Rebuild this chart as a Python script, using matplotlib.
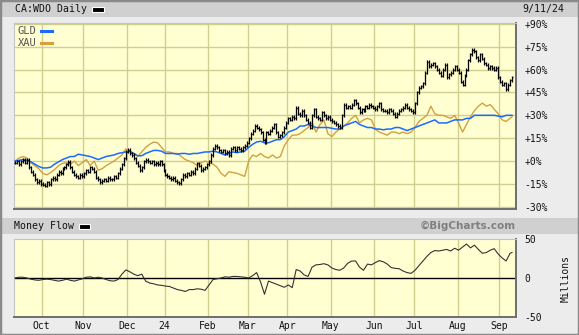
import numpy as np
import pandas as pd
import matplotlib
matplotlib.use('Agg')
import matplotlib.pyplot as plt
from matplotlib.lines import Line2D
from matplotlib.patches import Rectangle

# ---------------- data ----------------
# TSX trading calendar (Sep 12 2023 .. Sep 11 2024)
tsx_holidays = ['2023-10-09', '2023-12-25', '2023-12-26', '2024-01-01', '2024-02-19',
                '2024-03-29', '2024-05-20', '2024-07-01', '2024-08-05', '2024-09-02']
month_labels = ['Oct', 'Nov', 'Dec', '24', 'Feb', 'Mar', 'Apr', 'May', 'Jun', 'Jul', 'Aug', 'Sep']

# CA:WDO daily close, % change from start
wdo_close = [
    -1, 0, -2, 0, 1, -1, 1, -4, -7, -9,
    -12, -14, -13, -15, -15.5, -16, -14, -15, -12, -11,
    -12, -9, -7, -8, -5, -4, -2, -0.5, -4, -7,
    -9, -10, -11, -9, -10, -8, -6, -7, -4, -5,
    -7, -11, -12, -14, -13, -12, -13, -11, -12, -12,
    -10, -11, -8, -5, -2, 2, 6, 7.5, 5, 4,
    2, -1, -3, -6, -4, 0, 1, 0, -1, 0,
    -2, -1, -2, 0, -2, -6, -9, -10, -11, -12,
    -11, -13, -14, -14.5, -12, -9, -10, -8, -9, -7,
    -8, -5, -1.5, -3, -6, -5, -4, -2, 0, 4,
    8, 10, 9, 7, 6, 7, 5, 6, 4, 8,
    9, 7, 9, 8, 7, 9, 10, 12, 15, 18,
    20, 23, 22, 21, 19, 14, 12, 19, 18, 20,
    22, 24, 19, 16, 17, 19, 22, 25, 28, 27,
    29, 28, 35, 31, 30, 33, 30, 27, 25, 22,
    30, 34, 29, 28, 27, 32, 30, 28, 29, 27,
    26, 25, 24, 23, 22, 30, 37, 35, 36, 35,
    37, 40, 38, 35, 32, 34, 33, 36, 35, 37,
    36, 35, 34, 36, 38, 34, 33, 33, 32, 34,
    33, 31, 29, 31, 33, 34, 35, 37, 35, 34,
    33, 32, 38, 45, 48, 49, 51, 58, 65, 62,
    63, 64, 62, 60, 58, 56, 60, 63, 55, 57,
    58, 60, 62, 60, 58, 52, 50, 56, 60, 66,
    70, 73, 72, 68, 66, 70, 67, 64, 63, 61,
    62, 61, 60, 61, 55, 52, 50, 51, 47, 50,
    53, 55,
]

# GLD and XAU (% change), sampled every second trading day + last day
gld_pct = [
    0, 0.5, 1, 0.5, -0.5, -2, -3.5, -4.5, -4.5, -4,
    -2, -0.5, 1, 2, 3, 3, 4.5, 4, 3.5, 3,
    2, 1, 2, 3, 3.5, 4, 5, 5.5, 6, 6.5,
    5, 3.5, 3.5, 5, 6, 7, 7, 6.5, 5, 5,
    5, 4.5, 5, 5, 4.5, 5, 5, 5.5, 6, 6,
    6.5, 6, 5, 4, 5, 6, 5.5, 6, 6.5, 9,
    11, 12.5, 13, 12, 12, 13, 14, 14, 16, 19,
    20, 21, 23, 23, 24, 23, 22, 22, 22, 22,
    21.5, 21, 21, 23, 24, 25, 26, 24, 23, 22,
    22, 21, 21, 20.5, 21, 21, 22, 22, 21, 20,
    21, 22, 23, 24, 25, 26, 27, 25, 25, 25,
    26, 27, 27, 27, 28, 28, 30, 30, 30, 30,
    30, 30, 29.5, 29, 30, 30, 30,
]
xau_pct = [
    0, 2, 3, 2, -1, -3, -5, -8, -9, -7.5,
    -5.5, -3, -1.5, -1, -2, 0, -3, -1, 1, -3,
    0, -6, -5, -3, -1.5, 0, 2, 4, 8, 6,
    5, 3, 6, 9, 11, 12.5, 12, 9, 6, 6,
    5, 5, 3, 1, 0, -1, -3, -1, 0, -1,
    -2, -4, -8, -10, -7, -7.5, -8, -9, -10, 0,
    4, 3, 5, 3, 2, 4, 2, 3, 10, 14,
    17, 17, 18, 20, 22, 25, 19, 24, 27, 18,
    16, 19, 21, 23, 25, 28, 30, 25, 27, 28,
    27, 21, 19, 18, 17, 19, 19, 18, 19, 18,
    19, 22, 26, 28, 30, 36, 31, 30, 30, 29,
    28, 30, 25, 19, 24, 29, 33, 36, 38, 36,
    37, 34, 31, 27, 26, 28, 29,
]
# Money flow (millions), every second trading day + last day
money_flow = [
    0, 1, 1, 0, -1.5, -2.5, -3, -2, -1.5, -2,
    -3, -4, -3, -1.5, -3, -4, -2.5, -1, 1, 1.5,
    0, 1, 0, -2, -3.5, -4, -2, 5, 10.5, 8,
    5, 3, 5, -4, -6.5, -7.5, -9, -9.5, -10.5, -11,
    -13, -15, -16, -17.5, -15, -15, -14, -14.5, -16, -9,
    -2, -1, 0, 1.5, 1, 2, 2, 1.5, 1, 0,
    3, 7, -5, -21, -4, -6, -8, -10, -12, -9,
    -12.5, 11, 9, 4, 2, 14, 17, 17.5, 18.5, 17,
    13, 11, 10, 13, 19, 22, 22, 14, 10, 18,
    17, 20, 22.5, 21, 18, 13.5, 12.5, 12, 9, 7,
    6, 10, 16, 22, 28, 33, 35.5, 35, 36, 37,
    35, 38.5, 36, 40, 44, 39, 42.5, 37, 32, 33,
    36, 38, 31, 26, 22, 32, 33,
]
pct_ticks = [90, 75, 60, 45, 30, 15, 0, -15, -30]
mf_ticks = [50, 0, -50]

# ---------------- derived positions ----------------
dates = pd.bdate_range('2023-09-12', '2024-09-11')
dates = dates[~dates.isin(pd.to_datetime(tsx_holidays))]
n = len(dates)
idx = np.arange(len(wdo_close))
idx2 = np.r_[np.arange(0, len(wdo_close), 2), len(wdo_close) - 1]
mser = pd.Series(dates.month, index=range(n))
month_start = [i for i in range(1, n) if mser[i] != mser[i - 1]]
grid_x = np.array(month_start) - 0.5

# ---------------- figure ----------------
W, H = 579, 335
fig = plt.figure(figsize=(W / 100, H / 100), dpi=100, facecolor='#ececec')
MONO = 'DejaVu Sans Mono'

def fx(px):
    return px / W

def fy(py):
    return 1 - py / H

# header bars
fig.add_artist(Rectangle((0, fy(17)), 1, 17 / H, transform=fig.transFigure,
                         facecolor='#d0d0d0', edgecolor='none', zorder=0))
fig.add_artist(Rectangle((0, fy(234)), 1, 16 / H, transform=fig.transFigure,
                         facecolor='#d0d0d0', edgecolor='none', zorder=0))
# outer frame
fig.add_artist(Rectangle((0, 0), 1, 1, transform=fig.transFigure, facecolor='none',
                         edgecolor='#8a8a8a', lw=2.5, zorder=10))

grid_c = '#cfcf90'
plot_bg = '#ffffd2'

# ---- top panel ----
ax = fig.add_axes([fx(14), fy(209), (516 - 14) / W, (209 - 22.7) / H], facecolor=plot_bg)
for y in pct_ticks:
    ax.axhline(y, color=grid_c, lw=1.0, zorder=1)
for gx in grid_x:
    ax.axvline(gx, color=grid_c, lw=1.0, zorder=1)

ax.plot(idx2, xau_pct, color='#d4a040', lw=1.0, zorder=3)
ax.plot(idx2, gld_pct, color='#1a6cff', lw=1.1, zorder=4)

c = np.array(wdo_close, dtype=float)
o = np.r_[c[0], c[:-1]]
hi = np.maximum(o, c) + 1.0
lo = np.minimum(o, c) - 1.0
ax.vlines(idx, lo, hi, color='black', lw=0.9, zorder=5)
ax.hlines(o, idx - 0.55, idx, color='black', lw=0.9, zorder=5)
ax.hlines(c, idx, idx + 0.55, color='black', lw=0.9, zorder=5)

ax.set_xlim(-0.5, 253)
ax.set_ylim(-31.4, 90.7)
ax.yaxis.tick_right()
ax.set_yticks(pct_ticks)
ax.set_yticklabels([('+%d%%' % v) if v >= 0 else ('%d%%' % v) for v in pct_ticks],
                   family=MONO, fontsize=7, color='#111')
ax.tick_params(axis='y', length=0, pad=6)
ax.set_xticks([])
for s in ['top', 'left']:
    ax.spines[s].set_color('#c4c4c4')
for s in ['right', 'bottom']:
    ax.spines[s].set_color('#6e6e6e')
    ax.spines[s].set_linewidth(1.4)

# ---- bottom panel ----
bx = fig.add_axes([fx(14), fy(317), (516 - 14) / W, (317 - 239) / H], facecolor=plot_bg)
for gx in grid_x:
    bx.axvline(gx, color=grid_c, lw=1.0, zorder=1)
bx.axhline(0, color='black', lw=1.0, zorder=2)
bx.plot(idx2, money_flow, color='#333333', lw=0.8, zorder=3)
bx.set_xlim(-0.5, 253)
bx.set_ylim(-50.5, 50.5)
bx.yaxis.tick_right()
bx.set_yticks(mf_ticks)
bx.set_yticklabels([str(v) for v in mf_ticks], family=MONO, fontsize=7, color='#111')
bx.tick_params(axis='y', length=0, pad=6)
bx.set_xticks(grid_x)
bx.set_xticklabels(month_labels, family=MONO, fontsize=7, color='#111')
bx.tick_params(axis='x', length=0, pad=3)
for s in ['top', 'left']:
    bx.spines[s].set_color('#c4c4c4')
for s in ['right', 'bottom']:
    bx.spines[s].set_color('#6e6e6e')
    bx.spines[s].set_linewidth(1.4)

# ---- texts ----
fig.text(fx(15), fy(9), 'CA:WDO Daily', family=MONO, fontsize=7.1, va='center', color='#111')
fig.add_artist(Rectangle((fx(92), fy(12)), 12 / W, 5 / H, transform=fig.transFigure,
                         facecolor='black', edgecolor='white', lw=0.8, zorder=5))
fig.text(fx(564), fy(9), '9/11/24', family=MONO, fontsize=7.1, va='center', ha='right', color='#111')

fig.text(fx(18), fy(31), 'GLD', family=MONO, fontsize=7.5, va='center', color='#555')
fig.add_artist(Line2D([fx(41), fx(52)], [fy(31), fy(31)], transform=fig.transFigure,
                      color='#1a6cff', lw=2.2, zorder=6))
fig.text(fx(18), fy(42.5), 'XAU', family=MONO, fontsize=7.5, va='center', color='#555')
fig.add_artist(Line2D([fx(41), fx(52)], [fy(42.5), fy(42.5)], transform=fig.transFigure,
                      color='#d4a040', lw=2.2, zorder=6))

fig.text(fx(14), fy(226), 'Money Flow', family=MONO, fontsize=7.1, va='center', color='#111')
fig.add_artist(Rectangle((fx(79), fy(228.5)), 11 / W, 5 / H, transform=fig.transFigure,
                         facecolor='black', edgecolor='white', lw=0.8, zorder=5))
fig.text(fx(516), fy(226), '\u00a9BigCharts.com', family='DejaVu Sans', fontweight='bold',
         fontsize=7.5, va='center', ha='right', color='#808080')
fig.text(fx(566), fy(278), 'Millions', family=MONO, fontsize=7, va='center', ha='center',
         rotation=90, color='#111')

fig.savefig('out.png', dpi=100, facecolor=fig.get_facecolor())
